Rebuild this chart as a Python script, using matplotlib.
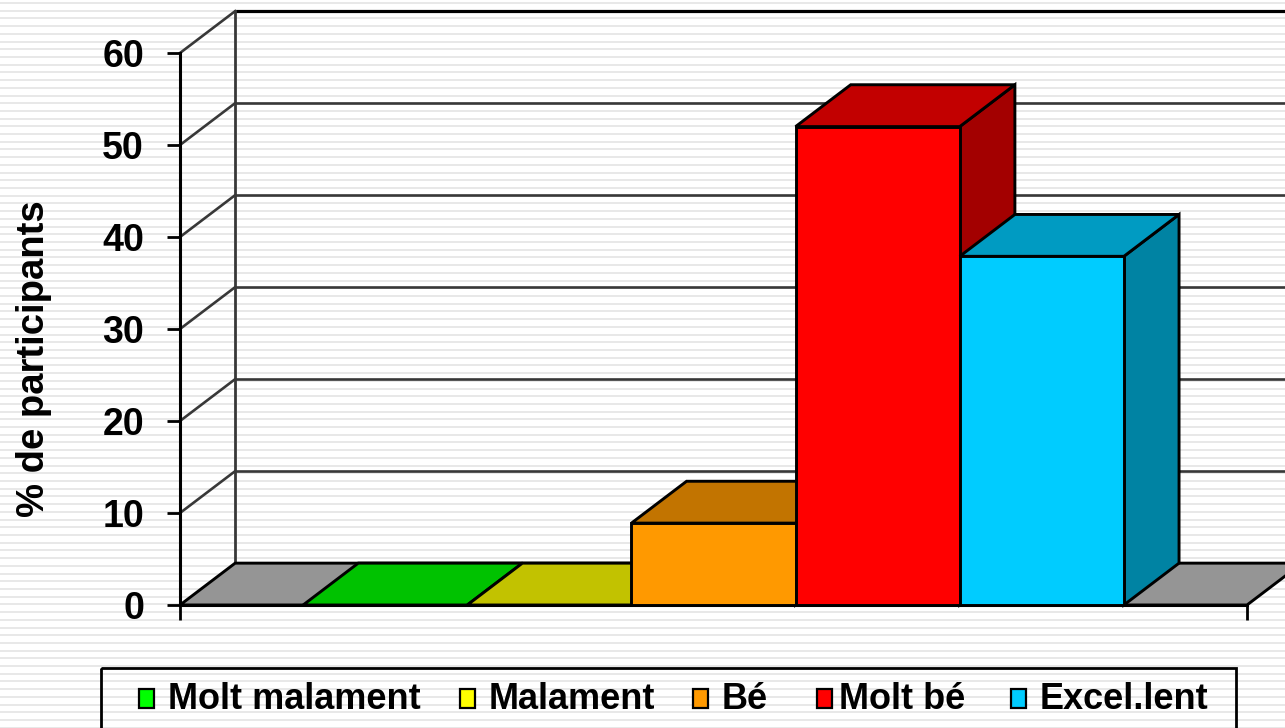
import matplotlib
matplotlib.use('Agg')
import matplotlib.pyplot as plt
from matplotlib.patches import Polygon, Rectangle
from matplotlib.colors import to_rgb
import numpy as np

# ---------------- data ----------------
categories = ['Molt malament', 'Malament', 'Bé', 'Molt bé', 'Excel.lent']
values = [0.0, 0.0, 8.9, 52.0, 37.9]
colors = ['#00FF00', '#FFFF00', '#FF9900', '#FF0000', '#00CCFF']
yticks = [0, 10, 20, 30, 40, 50, 60]
ylabel = '% de participants'

# ---------------- figure ----------------
plt.rcParams['font.family'] = ['Liberation Sans', 'DejaVu Sans']
W, H = 1285, 728
fig = plt.figure(figsize=(W / 100, H / 100), dpi=100)

# background with horizontal stripe texture
bg = fig.add_axes([0, 0, 1, 1], zorder=0)
bg.set_xlim(0, W)
bg.set_ylim(H, 0)
bg.axis('off')
for yy in np.arange(3.0, H, 7.71):
    bg.axhline(yy, color='#E4E4E4', lw=1.2, zorder=0)

# main (front plane) axes
ax = fig.add_axes([180 / W, (H - 605) / H, 1067 / W, 552 / H], zorder=1)
ax.patch.set_visible(False)
GAP, BW = 0.75, 1.0
n = len(values)
XMAX = 2 * GAP + n * BW
ax.set_xlim(0, XMAX)
ax.set_ylim(yticks[0], yticks[-1])
DX, DY = 0.336, 4.55  # oblique depth offset (x units, y units)

for s in ('top', 'right'):
    ax.spines[s].set_visible(False)
ax.spines['left'].set_linewidth(2.2)
ax.spines['bottom'].set_linewidth(2.2)

ax.set_yticks(yticks)
ax.set_yticklabels([str(t) for t in yticks], fontsize=27, fontweight='bold')
ax.tick_params(axis='y', length=9.4, width=2.0, pad=16.5, direction='out')
ax.set_xticks([0, XMAX])
ax.set_xticklabels([])
ax.tick_params(axis='x', length=10.8, width=2.0, direction='out')

ax.set_ylabel(ylabel, fontsize=27.5, fontweight='bold')
ax.yaxis.set_label_coords(-0.120, 0.446)

GRID = '#383838'
# back wall and side wall gridlines
for t in yticks:
    col = 'black' if t in (yticks[0], yticks[-1]) else GRID
    ax.plot([DX, XMAX + DX], [t + DY, t + DY], color=col,
            lw=2.3 if t == yticks[-1] else 1.9, clip_on=False, zorder=1,
            solid_capstyle='butt')
    if t != yticks[0]:
        ax.plot([0, DX], [t, t + DY], color=GRID, lw=1.9, clip_on=False, zorder=1)
ax.plot([DX, DX], [DY, yticks[-1] + DY], color=GRID, lw=2.0, clip_on=False, zorder=1)


def shade(c, f):
    r, g, b = to_rgb(c)
    return (r * f, g * f, b * f)


def face(pts, fc, z):
    ax.add_patch(Polygon(pts, closed=True, facecolor=fc, edgecolor='black',
                         lw=2.1, joinstyle='miter', clip_on=False, zorder=z))


# floor
face([(0, 0), (XMAX, 0), (XMAX + DX, DY), (DX, DY)], '#959595', 2)

# bars (left to right, painter's order)
for i, (v, c) in enumerate(zip(values, colors)):
    x0 = GAP + i * BW
    x1 = x0 + BW
    z = 3 + i
    if v > 0:
        face([(x1, 0), (x1 + DX, DY), (x1 + DX, v + DY), (x1, v)], shade(c, 0.64), z)
    face([(x0, v), (x1, v), (x1 + DX, v + DY), (x0 + DX, v + DY)], shade(c, 0.76), z)
    if v > 0:
        face([(x0, 0), (x1, 0), (x1, v), (x0, v)], c, z)

# ---------------- legend ----------------
bg.add_patch(Rectangle((101, 668), 1135, 80, facecolor='none', edgecolor='black',
                       lw=2.0, zorder=2))
mark_x = [139, 460, 693, 817, 1011]
text_x = [168, 489, 722, 839, 1040]
for mx, tx, lab, c in zip(mark_x, text_x, categories, colors):
    bg.add_patch(Rectangle((mx, 689), 15, 19, facecolor=c, edgecolor='black',
                           lw=1.6, zorder=3))
    bg.text(tx, 709, lab, fontsize=26, fontweight='bold', ha='left',
            va='baseline', zorder=3)

fig.savefig('out.png', dpi=100)
